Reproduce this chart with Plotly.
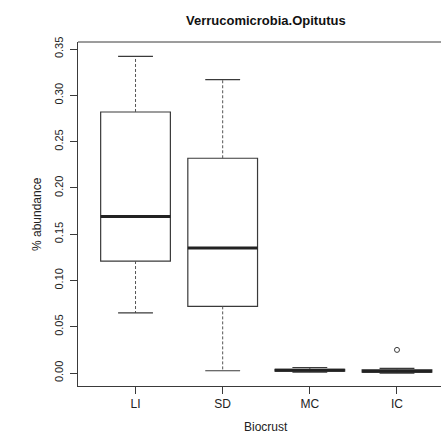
import plotly.graph_objects as go

categories = ["LI", "SD", "MC", "IC"]
positions = [1, 2, 3, 4]
lower_whisker = [0.065, 0.0025, 0.001, 0.0]
q1 = [0.121, 0.072, 0.002, 0.001]
median = [0.169, 0.135, 0.003, 0.002]
q3 = [0.282, 0.232, 0.004, 0.0035]
upper_whisker = [0.342, 0.317, 0.006, 0.005]
outlier_x = [4]
outlier_y = [0.025]
title_text = "Verrucomicrobia.Opitutus"
x_title = "Biocrust"
y_title = "% abundance"
y_ticks = [0.0, 0.05, 0.10, 0.15, 0.20, 0.25, 0.30, 0.35]

BOXW = 0.8
CAPW = 0.4
LC = "#3a3a3a"
FONT = "Liberation Sans, Arial, sans-serif"

fig = go.Figure()

# boxes (fences at quartiles; whiskers drawn separately dashed like R)
for i, p in enumerate(positions):
    fig.add_trace(go.Box(
        x=[p], q1=[q1[i]], median=[median[i]], q3=[q3[i]],
        lowerfence=[q1[i]], upperfence=[q3[i]],
        width=BOXW, fillcolor="white", line=dict(color=LC, width=1.2),
        whiskerwidth=0, boxpoints=False, showlegend=False, hoverinfo="skip"))

for i, p in enumerate(positions):
    fig.add_trace(go.Scatter(x=[p, p], y=[q3[i], upper_whisker[i]], mode="lines",
                             line=dict(color="#555555", width=1, dash="3px,2px"), showlegend=False, hoverinfo="skip"))
    fig.add_trace(go.Scatter(x=[p, p], y=[q1[i], lower_whisker[i]], mode="lines",
                             line=dict(color="#555555", width=1, dash="3px,2px"), showlegend=False, hoverinfo="skip"))
    fig.add_trace(go.Scatter(x=[p - CAPW / 2, p + CAPW / 2], y=[upper_whisker[i]] * 2, mode="lines",
                             line=dict(color=LC, width=1.2), showlegend=False, hoverinfo="skip"))
    fig.add_trace(go.Scatter(x=[p - CAPW / 2, p + CAPW / 2], y=[lower_whisker[i]] * 2, mode="lines",
                             line=dict(color=LC, width=1.2), showlegend=False, hoverinfo="skip"))
    fig.add_trace(go.Scatter(x=[p - BOXW / 2, p + BOXW / 2], y=[median[i]] * 2, mode="lines",
                             line=dict(color="#222222", width=3), showlegend=False, hoverinfo="skip"))

fig.add_trace(go.Scatter(x=outlier_x, y=outlier_y, mode="markers",
                         marker=dict(symbol="circle-open", size=5, color=LC, line=dict(width=1)),
                         showlegend=False, hoverinfo="skip"))

fig.update_layout(
    width=441, height=437,
    margin=dict(l=78, r=0, t=42, b=51),
    paper_bgcolor="white", plot_bgcolor="white",
    font=dict(family=FONT, size=12, color="#222222"),
    xaxis=dict(range=[0.34, 4.505], tickmode="array", tickvals=positions, ticktext=categories,
               showgrid=False, zeroline=False, showline=True, linecolor=LC, linewidth=1,
               ticks="outside", ticklen=7, tickcolor=LC, tickfont=dict(size=12)),
    yaxis=dict(range=[-0.014, 0.3576], tickmode="array", tickvals=y_ticks, tickformat=".2f",
               tickangle=-90, showgrid=False, zeroline=False, showline=True, linecolor=LC,
               linewidth=1, ticks="outside", ticklen=7, tickcolor=LC, tickfont=dict(size=11),
               ticklabelstandoff=3),
    shapes=[dict(type="line", xref="paper", yref="paper", x0=0, x1=1, y0=1, y1=1,
                 line=dict(color=LC, width=1))],
    annotations=[
        dict(text="<b>" + title_text + "</b>", xref="paper", yref="paper", x=0.518, y=1,
             yshift=22, xanchor="center", yanchor="middle", showarrow=False,
             font=dict(size=13, color="#111111")),
        dict(text=x_title, xref="paper", yref="paper", x=0.518, y=0, yshift=-41,
             xanchor="center", yanchor="middle", showarrow=False, font=dict(size=12)),
        dict(text=y_title, xref="paper", yref="paper", x=0, xshift=-41, y=0.5,
             xanchor="center", yanchor="middle", textangle=-90, showarrow=False,
             font=dict(size=12)),
    ],
)

fig.write_html("out.html")
